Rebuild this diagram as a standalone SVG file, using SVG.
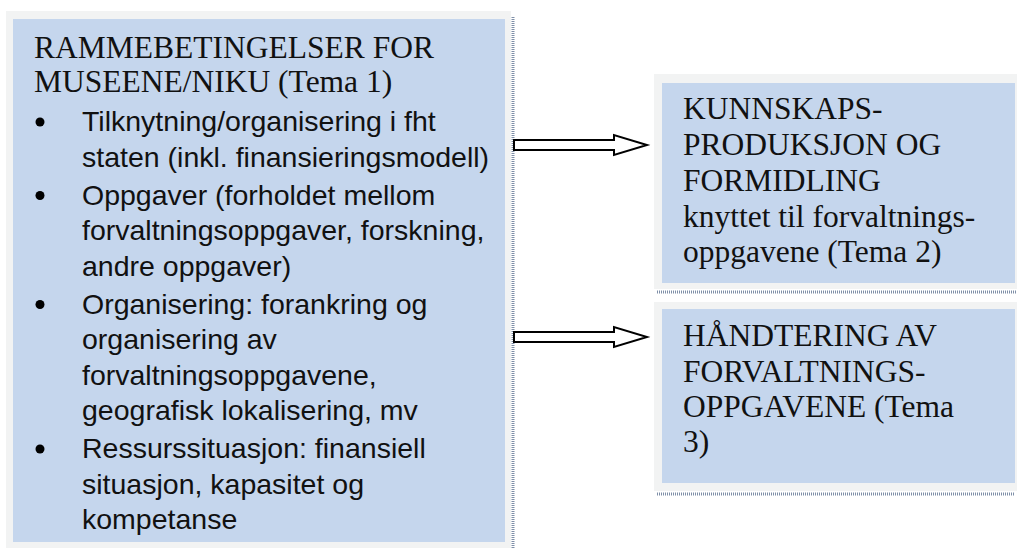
<svg xmlns="http://www.w3.org/2000/svg" width="1017" height="548" viewBox="0 0 1017 548">
<style>
.outer{fill:#f2f3f3}
.inner{fill:#c5d6ed}
.shadow{stroke:#7f8fa8;stroke-width:3;stroke-dasharray:1 1;fill:none}
.serif{font-family:"Liberation Serif","DejaVu Serif",serif;font-size:31.5px;fill:#111}
.sans{font-family:"Liberation Sans","DejaVu Sans",sans-serif;font-size:28.5px;fill:#111}
.arrow{fill:#fff;stroke:#000;stroke-width:2;stroke-linejoin:miter}
</style>
<rect width="1017" height="548" fill="#fff"/>
<g id="node-tema1">
<rect class="outer" x="6" y="11" width="505" height="540"/>
<rect class="inner" x="13" y="19" width="492" height="523"/>
<line class="shadow" x1="513" y1="17" x2="513" y2="548"/>
<text class="serif" x="34" y="58">RAMMEBETINGELSER FOR</text>
<text class="serif" x="34" y="92">MUSEENE/NIKU (Tema 1)</text>
<g fill="#000"><circle cx="40" cy="122" r="4.5"/><circle cx="40" cy="195.5" r="4.5"/><circle cx="40" cy="304.5" r="4.5"/><circle cx="40" cy="449" r="4.5"/></g>
<text class="sans" x="82" y="131">Tilknytning/organisering i fht</text>
<text class="sans" x="82" y="166.5">staten (inkl. finansieringsmodell)</text>
<text class="sans" x="82" y="204.5">Oppgaver (forholdet mellom</text>
<text class="sans" x="82" y="240">forvaltningsoppgaver, forskning,</text>
<text class="sans" x="82" y="275.5">andre oppgaver)</text>
<text class="sans" x="82" y="313.5">Organisering: forankring og</text>
<text class="sans" x="82" y="349">organisering av</text>
<text class="sans" x="82" y="384.5">forvaltningsoppgavene,</text>
<text class="sans" x="82" y="420">geografisk lokalisering, mv</text>
<text class="sans" x="82" y="458">Ressurssituasjon: finansiell</text>
<text class="sans" x="82" y="493.5">situasjon, kapasitet og</text>
<text class="sans" x="82" y="529">kompetanse</text>
</g>
<g id="node-tema2">
<rect class="outer" x="654" y="74" width="370" height="215"/>
<rect class="inner" x="662" y="83" width="353" height="200"/>
<line class="shadow" x1="657" y1="292" x2="1017" y2="292"/>
<text class="serif" x="683" y="119">KUNNSKAPS-</text>
<text class="serif" x="683" y="155">PRODUKSJON OG</text>
<text class="serif" x="683" y="191">FORMIDLING</text>
<text class="serif" x="683" y="227">knyttet til forvaltnings-</text>
<text class="serif" x="683" y="262">oppgavene (Tema 2)</text>
</g>
<g id="node-tema3">
<rect class="outer" x="654" y="302" width="370" height="189"/>
<rect class="inner" x="662" y="309" width="353" height="174"/>
<line class="shadow" x1="657" y1="494" x2="1015" y2="494"/>
<text class="serif" x="683" y="346">HÅNDTERING AV</text>
<text class="serif" x="683" y="382">FORVALTNINGS-</text>
<text class="serif" x="683" y="417">OPPGAVENE (Tema</text>
<text class="serif" x="683" y="452">3)</text>
</g>
<g id="connectors">
<path class="arrow" d="M514,140 L614,140 L614,135 L647,145 L614,155 L614,150 L514,150 Z"/>
<path class="arrow" d="M514,332 L614,332 L614,327 L647,337 L614,347 L614,342 L514,342 Z"/>
</g>
</svg>
